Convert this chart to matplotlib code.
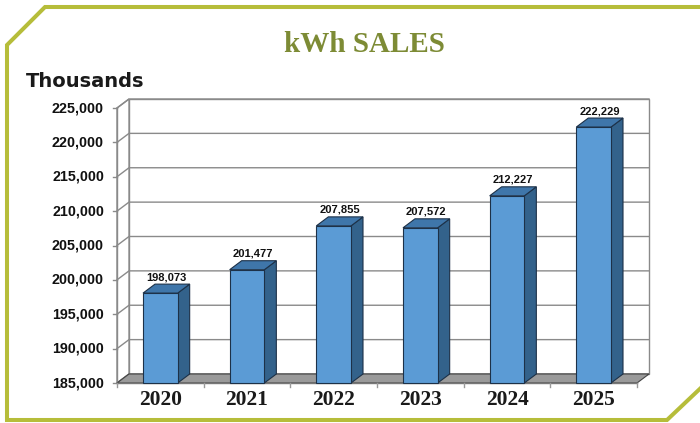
import matplotlib
matplotlib.use("Agg")
import matplotlib.pyplot as plt
from matplotlib.patches import Polygon, Rectangle
from matplotlib.lines import Line2D

years = ["2020", "2021", "2022", "2023", "2024", "2025"]
sales = [198073, 201477, 207855, 207572, 212227, 222229]
yticks = [185000, 190000, 195000, 200000, 205000, 210000, 215000, 220000, 225000]
title = "kWh SALES"
ylabel = "Thousands"

W, H = 700, 423
fig = plt.figure(figsize=(W / 100, H / 100), dpi=100)
fig.patch.set_facecolor("white")

ymin, ymax = 185000, 225000
px_per_unit = 86.667
px_per_val = 6.875 / 1000
dx = 12 / px_per_unit
dy = 9 / px_per_val

ax = fig.add_axes([117 / W, 40 / H, 532 / W, 284 / H])
ax.set_xlim(-0.5, len(years) - 0.5 + dx)
ax.set_ylim(ymin, ymax + dy)
ax.axis("off")

grid_c = "#8a8a8a"
xl, xr = -0.5, len(years) - 0.5

# back wall
ax.add_patch(Rectangle((xl + dx, ymin + dy), xr - xl, ymax - ymin,
                       facecolor="white", edgecolor=grid_c, lw=1.0, clip_on=False, zorder=1))
# left wall
ax.add_patch(Polygon([(xl, ymin), (xl + dx, ymin + dy), (xl + dx, ymax + dy), (xl, ymax)],
                     closed=True, facecolor="white", edgecolor=grid_c, lw=1.0, clip_on=False, zorder=1))
# gridlines
for v in yticks:
    ax.plot([xl, xl + dx, xr + dx], [v, v + dy, v + dy], color=grid_c, lw=1.0,
            clip_on=False, zorder=2)
    ax.plot([xl - 0.05, xl], [v, v], color=grid_c, lw=1.0, clip_on=False, zorder=2)
    ax.text(xl - 0.15, v, f"{v:,}", ha="right", va="center", fontsize=10.3,
            fontweight="bold", family="Liberation Sans", color="#111111")
ax.plot([xl, xl], [ymin, ymax], color=grid_c, lw=1.0, clip_on=False, zorder=2)

# floor
ax.add_patch(Polygon([(xl, ymin), (xr, ymin), (xr + dx, ymin + dy), (xl + dx, ymin + dy)],
                     closed=True, facecolor="#9a9a9a", edgecolor="#444444", lw=0.8,
                     clip_on=False, zorder=3))
ax.plot([xl, xr], [ymin, ymin], color="#777777", lw=1.0, clip_on=False, zorder=3)
for i in range(len(years) + 1):
    xt = xl + i
    ax.plot([xt, xt], [ymin, ymin - 4 / px_per_val], color="#999999", lw=1.0,
            clip_on=False, zorder=3)

# bars
bw = 0.40
front_c, top_c, side_c, edge_c = "#5b9bd5", "#3f76aa", "#33628b", "#1d3148"
for i, (yr, v) in enumerate(zip(years, sales)):
    x0, x1 = i - bw / 2, i + bw / 2
    ax.add_patch(Polygon([(x1, ymin), (x1 + dx, ymin + dy), (x1 + dx, v + dy), (x1, v)],
                         closed=True, facecolor=side_c, edgecolor=edge_c, lw=0.8,
                         clip_on=False, zorder=4))
    ax.add_patch(Polygon([(x0, v), (x1, v), (x1 + dx, v + dy), (x0 + dx, v + dy)],
                         closed=True, facecolor=top_c, edgecolor=edge_c, lw=0.8,
                         clip_on=False, zorder=4))
    ax.add_patch(Rectangle((x0, ymin), bw, v - ymin, facecolor=front_c, edgecolor=edge_c,
                           lw=0.8, clip_on=False, zorder=5))
    ax.text(i + dx / 2, v + dy + 4 / px_per_val, f"{v:,}", ha="center", va="baseline",
            fontsize=8, fontweight="bold", family="Liberation Sans", color="#111111", zorder=6)
    ax.text(i, ymin - 22 / px_per_val, yr, ha="center", va="baseline", fontsize=15.5,
            fontweight="bold", family="Liberation Serif", color="#1a1a1a")

# titles
fig.text(364 / W, (H - 52) / H, title, ha="center", va="baseline", fontsize=21,
         fontweight="bold", family="Liberation Serif", color="#7d8b35")
fig.text(26 / W, (H - 87) / H, ylabel, ha="left", va="baseline", fontsize=14,
         fontweight="bold", family="DejaVu Sans", color="#1a1a1a")

# decorative border
bc = "#b6bd3a"
pts_x = [700, 45, 7, 7, 667, 705]
pts_y = [7, 7, 45, 420, 420, 384]
fig.add_artist(Line2D([x / W for x in pts_x], [(H - y) / H for y in pts_y],
                      color=bc, lw=2.9, solid_joinstyle="miter", transform=fig.transFigure))

fig.savefig("out.png", dpi=100)
